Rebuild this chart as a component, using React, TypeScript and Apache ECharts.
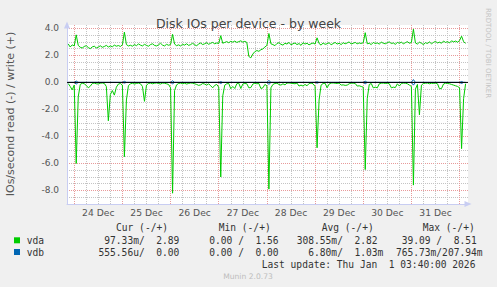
import React, { useEffect, useRef } from "react";
import * as echarts from "echarts";

// Hour offsets are measured from 24 Dec 00:00; one sample per hour.
const FIRST_HOUR = -3;
const X_MIN = -3.6;
const X_MAX = 196.2;
const Y_MIN = -9;
const Y_MAX = 4.25;

const dayLabels = ["24 Dec", "25 Dec", "26 Dec", "27 Dec", "28 Dec", "29 Dec", "30 Dec", "31 Dec"];
const yTickValues = [-8, -6, -4, -2, 0, 2, 4];

// vda writes per second (drawn above zero)
const vdaWrite = [
  2.85, 2.62, 2.78,
  2.70, 3.52, 2.74, 2.60, 2.55, 2.66, 2.72, 2.58, 2.50, 2.63, 2.68, 2.55, 2.62, 2.71, 2.60, 2.66, 2.74, 2.62, 2.70, 2.64, 2.76, 2.68, 2.73, 2.66,
  2.78, 3.72, 2.80, 2.70, 2.75, 2.68, 2.80, 2.72, 2.85, 2.76, 2.70, 2.82, 2.74, 2.68, 2.80, 2.86, 2.74, 2.70, 2.78, 2.90, 2.76, 2.70, 2.82, 2.75,
  2.80, 3.56, 2.84, 2.72, 2.78, 2.70, 2.82, 2.76, 2.86, 2.74, 2.80, 2.90, 2.78, 2.72, 2.84, 2.92, 2.80, 2.86, 2.94, 2.82, 2.90, 2.96, 2.86, 2.92,
  2.88, 3.46, 2.90, 2.96, 3.02, 2.94, 3.04, 2.98, 3.06, 2.96, 3.02, 3.08, 2.98, 3.04, 2.96, 1.92, 1.82, 2.10, 2.28, 2.36, 2.30, 2.42, 2.48, 2.62,
  2.74, 3.62, 2.86, 2.80, 2.72, 2.88, 2.94, 2.82, 2.76, 2.90, 2.84, 2.96, 2.78, 2.86, 2.92, 2.80, 2.88, 2.74, 2.94, 2.84, 2.90, 2.78, 2.86, 2.92,
  2.84, 3.30, 2.88, 2.76, 2.92, 2.82, 2.86, 2.94, 2.78, 2.88, 2.96, 2.84, 2.90, 2.80, 2.94, 2.86, 2.92, 3.00, 2.84, 2.90, 2.96, 2.86, 2.92, 2.88,
  2.94, 3.68, 2.86, 2.90, 2.80, 2.96, 2.88, 2.92, 2.84, 2.98, 2.90, 2.86, 2.94, 3.00, 2.88, 2.92, 2.82, 2.96, 2.90, 2.98, 2.86, 2.94, 3.02, 2.90,
  2.96, 3.94, 2.92, 2.84, 2.98, 2.90, 2.80, 2.94, 2.88, 3.00, 2.86, 2.96, 3.04, 2.92, 2.98, 2.90, 3.06, 2.96, 3.02, 2.92, 3.08, 3.00, 3.06, 2.98,
  3.10, 3.42, 3.02, 2.89,
];

// vda reads per second (drawn below zero)
const vdaRead = [
  0.08, 0.30, 0.55,
  0.20, 6.00, 1.07, 0.15, 0.06, 0.10, 0.22, 0.40, 0.28, 0.08, 0.05, 0.10, 0.12, 0.06, 0.04, 0.08, 0.30, 2.84, 0.90, 0.60, 0.94, 0.35, 0.12, 0.08,
  0.20, 5.50, 1.30, 0.25, 0.10, 0.06, 0.12, 0.08, 0.05, 0.10, 0.30, 1.40, 0.20, 0.08, 0.05, 0.10, 0.06, 0.04, 0.08, 0.12, 0.05, 0.06, 0.10, 0.15,
  0.40, 8.20, 0.60, 0.18, 0.08, 0.05, 0.10, 0.06, 0.12, 0.08, 0.04, 0.06, 0.10, 0.15, 0.22, 0.18, 0.08, 0.12, 0.20, 0.10, 0.25, 0.40, 0.22, 0.15,
  0.35, 7.00, 1.00, 0.20, 0.10, 0.08, 0.47, 0.30, 0.45, 0.10, 0.06, 0.45, 0.12, 0.08, 0.10, 0.40, 0.38, 0.12, 0.06, 0.10, 0.08, 0.45, 0.40, 0.15,
  0.25, 7.90, 0.40, 0.15, 0.08, 0.06, 0.15, 0.20, 0.10, 0.18, 0.05, 0.04, 0.06, 0.08, 0.10, 0.05, 0.27, 0.20, 0.27, 0.15, 0.25, 0.08, 0.05, 0.10,
  0.30, 4.84, 1.30, 0.20, 0.08, 0.06, 0.40, 0.12, 0.05, 0.04, 0.06, 0.08, 0.05, 0.20, 0.18, 0.22, 0.20, 0.10, 0.05, 0.06, 0.08, 0.27, 0.25, 0.30,
  0.35, 6.45, 1.20, 0.15, 0.08, 0.40, 0.35, 0.40, 0.10, 0.06, 0.05, 0.08, 0.06, 0.10, 0.40, 0.35, 0.38, 0.10, 0.27, 0.08, 0.05, 0.06, 0.10, 0.20,
  0.30, 7.60, 0.50, 0.15, 2.40, 0.20, 0.08, 0.06, 0.05, 0.10, 0.06, 0.08, 0.05, 0.10, 0.47, 0.45, 0.12, 0.06, 0.08, 0.10, 0.15, 0.20, 0.25, 0.30,
  0.40, 4.90, 1.20, 0.0973,
];

// vdb writes per second
const vdbWrite = [
  0, 0, 0,
  0, 0.10, 0, 0, 0, 0, 0, 0, 0, 0, 0, 0, 0, 0, 0, 0, 0, 0, 0, 0, 0, 0, 0, 0,
  0, 0.08, 0, 0, 0, 0, 0, 0, 0, 0, 0, 0, 0, 0, 0, 0, 0, 0, 0, 0, 0, 0, 0, 0,
  0, 0.12, 0, 0, 0, 0, 0, 0, 0, 0, 0, 0, 0, 0, 0, 0, 0, 0, 0, 0, 0, 0, 0, 0,
  0, 0.06, 0, 0, 0, 0, 0, 0, 0, 0, 0, 0, 0, 0, 0, 0, 0, 0, 0, 0, 0, 0, 0, 0,
  0, 0.15, 0, 0, 0, 0, 0, 0, 0, 0, 0, 0, 0, 0, 0, 0, 0, 0, 0, 0, 0, 0, 0, 0,
  0, 0.05, 0, 0, 0, 0, 0, 0, 0, 0, 0, 0, 0, 0, 0, 0, 0, 0, 0, 0, 0, 0, 0, 0,
  0, 0.09, 0, 0, 0, 0, 0, 0, 0, 0, 0, 0, 0, 0, 0, 0, 0, 0, 0, 0, 0, 0, 0, 0,
  0, 0.21, 0, 0, 0, 0, 0, 0, 0, 0, 0, 0, 0, 0, 0, 0, 0, 0, 0, 0, 0, 0, 0, 0,
  0, 0.07, 0, 0,
];

// vdb reads per second
const vdbRead = [
  0, 0, 0,
  0, 0.12, 0, 0, 0, 0, 0, 0, 0, 0, 0, 0, 0, 0, 0, 0, 0, 0, 0, 0, 0, 0, 0, 0,
  0, 0.05, 0, 0, 0, 0, 0, 0, 0, 0, 0, 0, 0, 0, 0, 0, 0, 0, 0, 0, 0, 0, 0, 0,
  0, 0.10, 0, 0, 0, 0, 0, 0, 0, 0, 0, 0, 0, 0, 0, 0, 0, 0, 0, 0, 0, 0, 0, 0,
  0, 0.08, 0, 0, 0, 0, 0, 0, 0, 0, 0, 0, 0, 0, 0, 0, 0, 0, 0, 0, 0, 0, 0, 0,
  0, 0.15, 0, 0, 0, 0, 0, 0, 0, 0, 0, 0, 0, 0, 0, 0, 0, 0, 0, 0, 0, 0, 0, 0,
  0, 0.06, 0, 0, 0, 0, 0, 0, 0, 0, 0, 0, 0, 0, 0, 0, 0, 0, 0, 0, 0, 0, 0, 0,
  0, 0.10, 0, 0, 0, 0, 0, 0, 0, 0, 0, 0, 0, 0, 0, 0, 0, 0, 0, 0, 0, 0, 0, 0,
  0, 0.20, 0, 0, 0, 0, 0, 0, 0, 0, 0, 0, 0, 0, 0, 0, 0, 0, 0, 0, 0, 0, 0, 0,
  0, 0.08, 0, 0.00056,
];

// Legend statistics (read / write)
const statHeaders = ["Cur (-/+)", "Min (-/+)", "Avg (-/+)", "Max (-/+)"];
const vdaStats = [" 97.33m/  2.89 ", "  0.00 /  1.56 ", "308.55m/  2.82 ", " 39.09 /  8.51 "];
const vdbStats = ["555.56u/  0.00 ", "  0.00 /  0.00 ", "  6.80m/  1.03m", "765.73m/207.94m"];
const lastUpdate = "Last update: Thu Jan  1 03:40:00 2026";

const GREEN = "#00cc00";
const BLUE = "#0066b3";
const GRID_RED = "#e89a9a";
const GRID_GRAY = "#c4c4c4";
const AXIS_COLOR = "#c8cdf2";
const MONO = '"DejaVu Sans Mono", monospace';
const SANS = '"DejaVu Sans", sans-serif';

const toPairs = (vals: number[], sign: number) =>
  vals.map((v, i) => [FIRST_HOUR + i, sign * v]);

// monospace cells keep their spacing
const keepSpaces = (s: string) => s.replace(/ /g, "\u00a0");

export default function App() {
  const ref = useRef<HTMLDivElement>(null);

  useEffect(() => {
    if (!ref.current) return;
    const chart = echarts.init(ref.current, null, { renderer: "svg" });

    // grid positions: every 6 h (midnight red) and every 0.5 (each 2.0 red)
    const xGridHours: number[] = [];
    for (let h = 6 * Math.ceil(X_MIN / 6); h <= X_MAX; h += 6) xGridHours.push(h);
    const yGridValues: number[] = [];
    for (let k = Math.ceil(Y_MIN / 0.5) + 1; k * 0.5 <= Y_MAX; k++) yGridValues.push(k * 0.5);
    const xGridColors = xGridHours.map((h) => (h % 24 === 0 ? GRID_RED : GRID_GRAY));
    const yGridColors = yGridValues.map((v) => (v % 2 === 0 ? GRID_RED : GRID_GRAY));

    const noonHours = dayLabels.map((_, i) => 12 + 24 * i);

    const colStarts = [98.5, 197.7, 296.7, 395.9];
    const headerStarts = [116, 218.7, 321.7, 422.7];

    const legendTexts: any[] = [];
    statHeaders.forEach((t, i) => {
      legendTexts.push({
        type: "text", x: headerStarts[i], y: 227.5,
        style: { text: keepSpaces(t), fontFamily: MONO, fontSize: 9.6, fill: "#333", textVerticalAlign: "middle" },
      });
    });
    [vdaStats, vdbStats].forEach((row, r) => {
      row.forEach((t, i) => {
        legendTexts.push({
          type: "text", x: colStarts[i], y: 240.3 + r * 11.8,
          style: { text: keepSpaces(t), fontFamily: MONO, fontSize: 9.6, fill: "#333", textVerticalAlign: "middle" },
        });
      });
    });

    const lineSeries = (name: string, data: number[][], color: string) => ({
      name, type: "line", data, showSymbol: false, z: 3,
      lineStyle: { color, width: 1 }, itemStyle: { color },
    });

    chart.setOption({
      animation: false,
      backgroundColor: "#f0f0f0",
      title: {
        text: "Disk IOs per device - by week",
        left: "center",
        top: 12,
        textStyle: { fontFamily: SANS, fontSize: 12.5, fontWeight: "normal", color: "#444" },
      },
      grid: {
        left: 67, right: 29, top: 25, bottom: 83,
        show: true, backgroundColor: "#ffffff", borderWidth: 0,
      },
      xAxis: {
        type: "value",
        min: X_MIN,
        max: X_MAX,
        axisLine: {
          show: true, onZero: false,
          lineStyle: { color: AXIS_COLOR, width: 1 },
          symbol: ["none", "triangle"], symbolSize: [6, 7],
        },
        axisTick: { show: false, customValues: xGridHours },
        splitLine: {
          show: true, showMinLine: true, showMaxLine: true,
          lineStyle: { color: xGridColors, type: [1, 1], width: 1 },
        },
        axisLabel: {
          customValues: noonHours,
          formatter: (v: number) => dayLabels[Math.round((v - 12) / 24)] ?? "",
          color: "#555", fontFamily: SANS, fontSize: 9.2, margin: 4,
        },
      },
      yAxis: {
        type: "value",
        min: Y_MIN,
        max: Y_MAX,
        axisLine: {
          show: true, onZero: false,
          lineStyle: { color: AXIS_COLOR, width: 1 },
          symbol: ["none", "triangle"], symbolSize: [6, 7],
        },
        axisTick: { show: false, customValues: yGridValues },
        splitLine: {
          show: true, showMinLine: true, showMaxLine: true,
          lineStyle: { color: yGridColors, type: [1, 1], width: 1 },
        },
        axisLabel: {
          customValues: yTickValues,
          formatter: (v: number) => v.toFixed(1),
          color: "#555", fontFamily: SANS, fontSize: 9, margin: 8,
        },
      },
      series: [
        lineSeries("vda read", toPairs(vdaRead, -1), GREEN),
        lineSeries("vda write", toPairs(vdaWrite, 1), GREEN),
        lineSeries("vdb read", toPairs(vdbRead, -1), BLUE),
        lineSeries("vdb write", toPairs(vdbWrite, 1), BLUE),
        {
          name: "zero", type: "line", data: [[X_MIN, 0], [X_MAX, 0]], showSymbol: false, z: 4, silent: true,
          lineStyle: { color: "#000", width: 1 }, itemStyle: { color: "#000" },
        },
      ],
      graphic: [
        {
          type: "text", x: 10, y: 114, rotation: Math.PI / 2,
          style: {
            text: "IOs/second read (-) / write (+)", fontFamily: SANS, fontSize: 11, fill: "#555",
            textAlign: "center", textVerticalAlign: "middle",
          },
        },
        {
          type: "text", x: 487.5, y: 53, rotation: -Math.PI / 2,
          style: {
            text: "RRDTOOL / TOBI OETIKER", fontFamily: SANS, fontSize: 7, fill: "#c4c4c4",
            textAlign: "center", textVerticalAlign: "middle",
          },
        },
        { type: "rect", shape: { x: 14, y: 237.3, width: 6, height: 6 }, style: { fill: GREEN } },
        { type: "rect", shape: { x: 14, y: 249, width: 6, height: 6 }, style: { fill: BLUE } },
        {
          type: "text", x: 26.7, y: 240.3,
          style: { text: "vda", fontFamily: MONO, fontSize: 9.6, fill: "#333", textVerticalAlign: "middle" },
        },
        {
          type: "text", x: 26.7, y: 252.1,
          style: { text: "vdb", fontFamily: MONO, fontSize: 9.6, fill: "#333", textVerticalAlign: "middle" },
        },
        ...legendTexts,
        {
          type: "text", x: 261.7, y: 264,
          style: { text: keepSpaces(lastUpdate), fontFamily: MONO, fontSize: 9.6, fill: "#333", textVerticalAlign: "middle" },
        },
        {
          type: "text", x: 248, y: 276.5,
          style: {
            text: "Munin 2.0.73", fontFamily: SANS, fontSize: 7.6, fill: "#bdbdbd",
            textAlign: "center", textVerticalAlign: "middle",
          },
        },
      ],
    });

    return () => chart.dispose();
  }, []);

  return (
    <div
      ref={ref}
      style={{ position: "fixed", left: 0, top: 0, width: 497, height: 287 }}
    />
  );
}
